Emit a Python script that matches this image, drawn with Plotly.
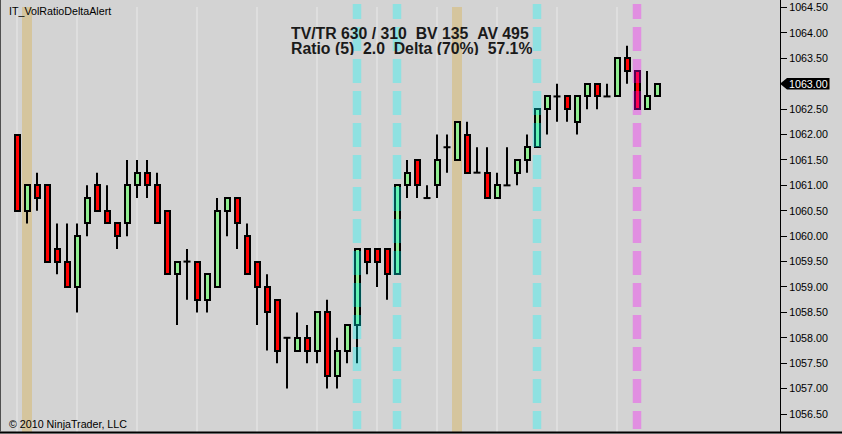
import plotly.graph_objects as go

# ---------------- data ----------------
opens = [1062.00, 1060.50, 1061.00, 1061.00, 1059.75, 1059.50, 1059.00, 1060.25, 1061.00, 1060.50,
         1060.25, 1060.25, 1061.00, 1061.25, 1061.00, 1060.50, 1059.25, 1059.50, 1059.50, 1058.75,
         1059.00, 1060.50, 1060.75, 1060.00, 1059.50, 1059.00, 1058.75, 1058.00, 1057.75, 1058.00,
         1057.75, 1058.50, 1057.25, 1057.75, 1058.25, 1059.75, 1059.75, 1059.75, 1059.25, 1061.00,
         1061.50, 1060.75, 1061.00, 1061.75, 1061.50, 1062.00, 1061.25, 1061.25, 1060.75, 1061.00,
         1061.25, 1061.50, 1061.75, 1062.50, 1062.75, 1062.75, 1062.25, 1062.75, 1063.00, 1062.75,
         1062.75, 1063.50, 1063.25, 1062.50, 1062.75]
highs = [1062.00, 1061.00, 1061.25, 1061.00, 1060.25, 1060.25, 1060.25, 1061.00, 1061.25, 1061.00,
         1060.25, 1061.50, 1061.50, 1061.50, 1061.25, 1060.50, 1059.50, 1059.75, 1059.50, 1059.25,
         1060.75, 1060.75, 1060.75, 1060.25, 1059.50, 1059.25, 1058.75, 1058.00, 1058.50, 1058.25,
         1058.50, 1058.75, 1058.00, 1058.25, 1059.75, 1059.75, 1059.75, 1059.75, 1061.00, 1061.50,
         1061.50, 1061.00, 1062.00, 1062.00, 1062.25, 1062.25, 1061.75, 1061.75, 1061.25, 1061.75,
         1061.50, 1062.00, 1062.50, 1062.75, 1063.00, 1062.75, 1062.75, 1063.00, 1063.00, 1063.00,
         1063.50, 1063.75, 1063.25, 1063.25, 1063.00]
lows = [1060.50, 1060.25, 1060.50, 1059.50, 1059.25, 1059.00, 1058.50, 1060.00, 1060.50, 1060.25,
        1059.75, 1060.00, 1060.75, 1060.75, 1060.25, 1059.25, 1058.25, 1058.75, 1058.50, 1058.50,
        1059.00, 1060.00, 1059.75, 1059.25, 1058.25, 1057.75, 1057.50, 1057.00, 1057.75, 1057.50,
        1057.50, 1057.00, 1057.00, 1057.50, 1057.50, 1059.25, 1059.00, 1058.75, 1059.25, 1060.75,
        1060.75, 1060.75, 1060.75, 1061.25, 1061.50, 1061.25, 1061.25, 1060.75, 1060.75, 1061.00,
        1061.00, 1061.25, 1061.75, 1062.00, 1062.25, 1062.25, 1062.00, 1062.50, 1062.50, 1062.75,
        1062.75, 1063.00, 1062.50, 1062.50, 1062.75]
closes = [1060.50, 1061.00, 1060.75, 1059.50, 1059.50, 1059.00, 1060.00, 1060.75, 1060.50, 1060.25,
          1060.00, 1061.00, 1061.25, 1061.00, 1060.25, 1059.25, 1059.50, 1059.50, 1058.75, 1059.25,
          1060.50, 1060.75, 1060.25, 1059.25, 1059.00, 1058.50, 1057.75, 1058.00, 1058.00, 1057.75,
          1058.50, 1057.25, 1057.75, 1058.25, 1059.75, 1059.50, 1059.50, 1059.25, 1061.00, 1061.25,
          1061.00, 1060.75, 1061.50, 1061.75, 1062.25, 1061.25, 1061.25, 1060.75, 1061.00, 1061.00,
          1061.50, 1061.75, 1062.50, 1062.75, 1062.75, 1062.50, 1062.75, 1063.00, 1062.75, 1062.75,
          1063.50, 1063.25, 1062.50, 1062.75, 1063.00]

bar_index = list(range(1, len(opens) + 1))
grid_bars = [1, 7, 13, 19, 25, 31, 37, 43, 49, 55, 61]      # time grid lines
tan_bars = [2, 45]                                            # solid highlight bands
cyan_bars = [35, 39, 53]                                      # dashed cyan alerts
pink_bars = [63]                                              # dashed magenta alert

indicator_name = "IT_VolRatioDeltaAlert"
copyright_text = "\u00a9 2010 NinjaTrader, LLC"
info_line1 = "TV/TR 630 / 310\u00a0\u00a0BV 135\u00a0\u00a0AV 495"
info_line2 = "Ratio (5)\u00a0\u00a02.0\u00a0\u00a0Delta (70%)\u00a0\u00a057.1%"

y_ticks = [1056.5 + 0.5 * k for k in range(17)]

# ---------------- geometry / style ----------------
W, H = 842, 434
PLOT_R = 780
PLOT_B = 432
BG = "#D3D3D3"
FONT = "Liberation Sans, Arial, sans-serif"

def py(px):
    """paper y for a pixel row measured from top of plot area"""
    return 1 - px / PLOT_B

# bodies
body_x, body_base, body_h, body_col = [], [], [], []
for i, o, c in zip(bar_index, opens, closes):
    if o == c:
        continue
    body_x.append(i)
    body_base.append(min(o, c))
    body_h.append(abs(c - o))
    body_col.append("#90EE90" if c > o else "#FF0000")

# wicks + doji ticks
wx, wy = [], []
for i, o, h, l, c in zip(bar_index, opens, highs, lows, closes):
    top, bot = max(o, c), min(o, c)
    if h > top:
        wx += [i, i, None]; wy += [top, h, None]
    if l < bot:
        wx += [i, i, None]; wy += [bot, l, None]
    if o == c:
        wx += [i - 0.35, i + 0.35, None]; wy += [o, o, None]

fig = go.Figure()
fig.add_trace(go.Bar(x=body_x, base=body_base, y=body_h, width=0.5,
                     marker=dict(color=body_col, line=dict(color="black", width=2)),
                     hoverinfo="skip", showlegend=False))
fig.add_trace(go.Scatter(x=wx, y=wy, mode="lines", line=dict(color="black", width=2),
                         connectgaps=False, hoverinfo="skip", showlegend=False))

shapes = []
for g in grid_bars:
    shapes.append(dict(type="line", xref="x", yref="paper", x0=g, x1=g, y0=py(7), y1=0,
                       line=dict(color="#E9E9E9", width=1), layer="below"))
for t in tan_bars:
    shapes.append(dict(type="rect", xref="x", yref="paper", x0=t - 0.5, x1=t + 0.5,
                       y0=py(7), y1=0, fillcolor="#D5C59D", line=dict(width=0), layer="below"))

dash_pattern = "15px,8px," + ",".join(["24px,8px"] * 14)
for c in cyan_bars:
    shapes.append(dict(type="line", xref="x", yref="paper", x0=c, x1=c, y0=py(4), y1=py(429),
                       line=dict(color="rgba(0,255,255,0.32)", width=8.5, dash=dash_pattern),
                       layer="above"))
for p in pink_bars:
    shapes.append(dict(type="line", xref="x", yref="paper", x0=p, x1=p, y0=py(4), y1=py(429),
                       line=dict(color="rgba(255,0,255,0.32)", width=8.5, dash=dash_pattern),
                       layer="above"))

# borders
shapes.append(dict(type="line", xref="paper", yref="paper", x0=0, x1=W / PLOT_R, y0=py(432.5), y1=py(432.5),
                   line=dict(color="black", width=2)))
shapes.append(dict(type="line", xref="paper", yref="paper", x0=0.5 / PLOT_R, x1=0.5 / PLOT_R, y0=0, y1=1,
                   line=dict(color="#505050", width=1)))

# last price marker
last = closes[-1]
ppx = 50.8  # px per point
hh = 5.7 / ppx
x_tip, x_a, x_r = 1.0, 787 / PLOT_R, 829.5 / PLOT_R
shapes.append(dict(type="path", xref="paper", yref="y",
                   path=f"M {x_tip},{last} L {x_a},{last + hh} L {x_r},{last + hh} L {x_r},{last - hh} L {x_a},{last - hh} Z",
                   fillcolor="black", line=dict(color="black", width=0)))

annotations = [
    dict(text=indicator_name, xref="paper", yref="paper", x=7 / PLOT_R, y=py(11.5),
         xanchor="left", yanchor="middle", showarrow=False,
         font=dict(family=FONT, size=10.7, color="black")),
    dict(text=copyright_text, xref="paper", yref="paper", x=6.5 / PLOT_R, y=py(424),
         xanchor="left", yanchor="middle", showarrow=False,
         font=dict(family=FONT, size=10.7, color="black")),
    dict(text="<b>" + info_line1 + "</b>", xref="paper", yref="paper", x=289 / PLOT_R, y=py(33.5),
         xanchor="left", yanchor="middle", showarrow=False, height=14,
         font=dict(family=FONT, size=15.8, color="#1a1a1a")),
    dict(text="<b>" + info_line2 + "</b>", xref="paper", yref="paper", x=289 / PLOT_R, y=py(48.5),
         xanchor="left", yanchor="middle", showarrow=False, height=14,
         font=dict(family=FONT, size=15.8, color="#1a1a1a")),
    dict(text=f"{last:.2f}", xref="paper", yref="y", x=808.5 / PLOT_R, y=last,
         xanchor="center", yanchor="middle", showarrow=False,
         font=dict(family=FONT, size=10.7, color="white")),
]

fig.update_layout(
    width=W, height=H, autosize=False,
    margin=dict(l=0, r=W - PLOT_R, t=0, b=H - PLOT_B, pad=0),
    paper_bgcolor=BG, plot_bgcolor=BG,
    showlegend=False, bargap=0,
    shapes=shapes, annotations=annotations,
    xaxis=dict(range=[-0.7, 77.3], visible=False, fixedrange=True),
    yaxis=dict(range=[1056.146, 1064.648], side="right", showgrid=False, zeroline=False,
               showline=True, linecolor="black", linewidth=1.2,
               ticks="outside", ticklen=6, tickwidth=1, tickcolor="black",
               tickvals=y_ticks, ticktext=[f"{v:.2f}" for v in y_ticks],
               tickfont=dict(family=FONT, size=10.7, color="black"),
               automargin=False, fixedrange=True),
)

fig.write_html("out.html", config={"displayModeBar": False},
               post_script="document.body.style.margin='0px';document.body.style.background='#D3D3D3';")
